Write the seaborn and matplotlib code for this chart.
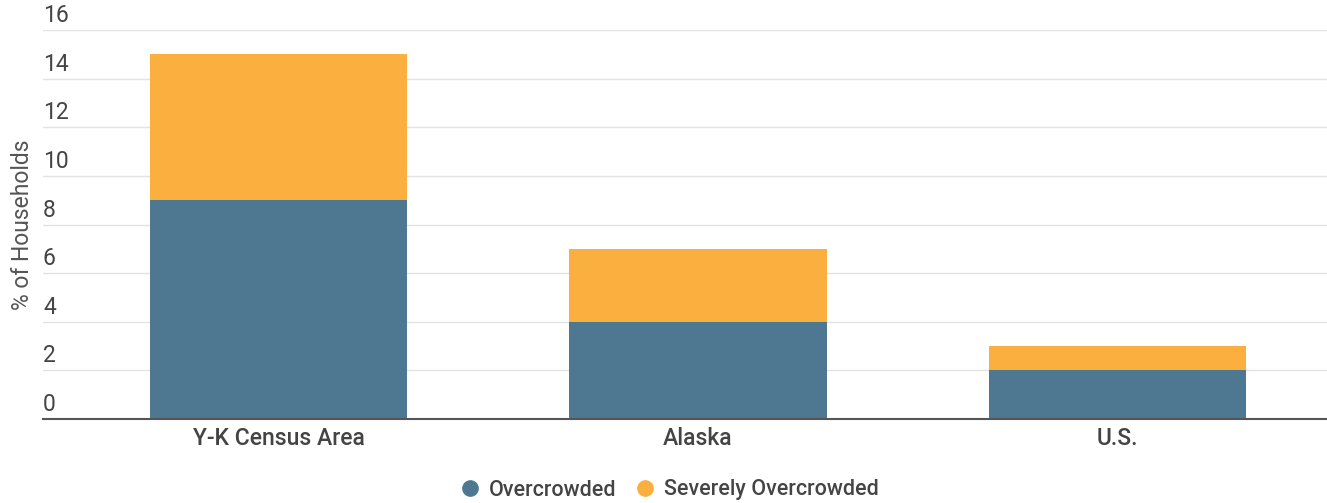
import pandas as pd
import matplotlib.pyplot as plt
import seaborn as sns
from matplotlib.lines import Line2D

# Datos
areas = ["Y-K Census Area", "Alaska", "U.S."]
overcrowded = [9, 4, 2]
severely_overcrowded = [6, 3, 1]

color_over = "#4E7891"
color_severe = "#FBAF3F"
text_color = "#444444"

sns.set_theme(style="white")
plt.rcParams['font.family'] = ['Roboto', 'DejaVu Sans']

df = pd.DataFrame({
    "area": areas,
    "Overcrowded": overcrowded,
    "Total": [a + b for a, b in zip(overcrowded, severely_overcrowded)],
})

fig = plt.figure(figsize=(13.27, 5.03), dpi=100)
ax = fig.add_axes([43 / 1327, 1 - 419 / 503, (1327 - 43) / 1327, (419 - 30) / 503])

# Barras apiladas: primero el total (naranja), luego la parte inferior (azul)
sns.barplot(data=df, x="area", y="Total", color=color_severe, width=0.613,
            saturation=1, linewidth=0, ax=ax, zorder=2)
sns.barplot(data=df, x="area", y="Overcrowded", color=color_over, width=0.613,
            saturation=1, linewidth=0, ax=ax, zorder=3)

ax.set_ylim(0, 16)
ax.set_xlim(-0.562, 2.5)
ax.set_yticks(range(0, 17, 2))
ax.yaxis.grid(True, color="#e3e3e3", linewidth=1, zorder=0)
ax.set_yticklabels([])
ax.tick_params(axis="y", length=0)
for v in range(0, 17, 2):
    ax.text(0, v + 0.12, str(v), transform=ax.get_yaxis_transform(), ha="left", va="bottom",
            fontsize=16.5, color=text_color, clip_on=False)

ax.tick_params(axis="x", length=0, labelsize=16.5, labelcolor=text_color, pad=6)
for lbl in ax.get_xticklabels():
    lbl.set_fontweight("medium")
ax.set_xlabel("")
ax.set_ylabel("% of Households", fontsize=16.5, color="#555555")
ax.yaxis.set_label_coords(-0.007, 0.5)

for side in ["top", "right", "left"]:
    ax.spines[side].set_visible(False)
ax.spines["bottom"].set_color("#555555")
ax.spines["bottom"].set_linewidth(1.5)
ax.spines["bottom"].set_zorder(4)

handles = [
    Line2D([], [], marker="o", linestyle="", markersize=11, color=color_over, label="Overcrowded"),
    Line2D([], [], marker="o", linestyle="", markersize=11, color=color_severe, label="Severely Overcrowded"),
]
leg = fig.legend(handles=handles, loc="center", bbox_to_anchor=(0.5, 1 - 490 / 503),
                 ncol=2, frameon=False, handletextpad=-0.1, columnspacing=0.3,
                 prop={"family": "Roboto", "weight": "medium", "size": 15.5})
for t in leg.get_texts():
    t.set_color(text_color)

fig.savefig("out.png", dpi=100)
plt.close(fig)
